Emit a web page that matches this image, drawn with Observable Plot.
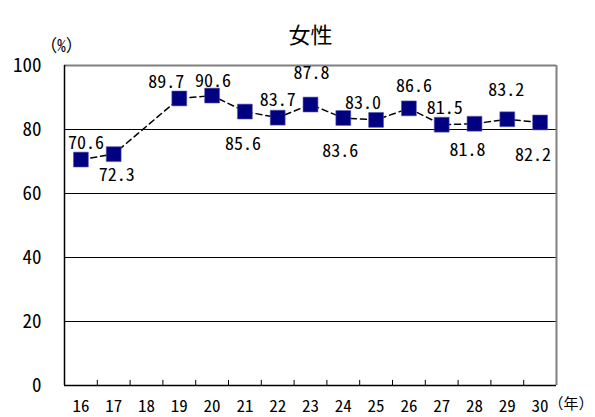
<!DOCTYPE html>
<html>
<head>
<meta charset="utf-8">
<script src="https://cdn.jsdelivr.net/npm/d3@7"></script>
<script src="https://cdn.jsdelivr.net/npm/@observablehq/plot@0.6"></script>
<style>
  html, body { margin: 0; padding: 0; background: #fff; }
  #chart svg { display: block; }
</style>
</head>
<body>
<div id="chart"></div>
<script>
// Data
const title = "女性";
const years = [16, 17, 19, 20, 21, 22, 23, 24, 25, 26, 27, 28, 29, 30];
const values = [70.6, 72.3, 89.7, 90.6, 85.6, 83.7, 87.8, 83.6, 83.0, 86.6, 81.5, 81.8, 83.2, 82.2];
const xTickYears = [16, 17, 18, 19, 20, 21, 22, 23, 24, 25, 26, 27, 28, 29, 30];
const yTicks = [0, 20, 40, 60, 80, 100];
const yUnit = "（%）";
const xUnit = "（年）";

// Label placement (offsets, px)
const labelDx = [5, 3, -13, 1, -2, 0, 1, -3, -13, 5, 3, -7, -1, -7];
const labelDy = [-16, 21, -16, -14, 33, -17, -31, 33, -17, -22, -16, 26, -29, 33];

const data = years.map((y, i) => ({year: y, value: values[i]}));
const font = "'Noto Sans Mono CJK JP', 'Noto Sans CJK JP', 'Liberation Mono', monospace";
const boundaries = xTickYears.slice(1).map(d => d - 0.5);

const marks = [
  // gridlines
  Plot.ruleY(yTicks.filter(d => d > 0 && d < 100), {stroke: "#000", strokeWidth: 1}),
  // gray frame top & right
  Plot.ruleY([100], {stroke: "#808080", strokeWidth: 2}),
  Plot.ruleX([30.5], {stroke: "#808080", strokeWidth: 2}),
  // axes lines
  Plot.ruleX([15.5], {stroke: "#000", strokeWidth: 1.5}),
  Plot.ruleY([0], {stroke: "#000", strokeWidth: 1.5}),
  // x ticks at category boundaries (inward)
  Plot.ruleX(boundaries, {x: d => d, y1: 0, y2: 1.6, stroke: "#000", strokeWidth: 1}),
  // y tick labels
  Plot.text(yTicks, {x: 15.5, y: d => d, text: d => String(d), textAnchor: "end", dx: -23, fontSize: 19}),
  // x tick labels
  Plot.text(xTickYears, {x: d => d, y: 0, text: d => String(d), dy: 21, fontSize: 17}),
  // units
  Plot.text([yUnit], {x: 15.5, y: 100, text: d => d, dx: -3, dy: -19, fontSize: 17}),
  Plot.text([xUnit], {x: 30.5, y: 0, text: d => d, textAnchor: "end", dx: 37, dy: 19, fontSize: 15}),
  // title
  Plot.text([title], {frameAnchor: "top", text: d => d, dy: -38, fontSize: 22}),
  // line
  Plot.line(data, {x: "year", y: "value", stroke: "#000", strokeWidth: 1.5, strokeDasharray: "6,4"}),
  // markers
  Plot.dot(data, {x: "year", y: "value", symbol: "square", r: 8.4, fill: "#000080", stroke: "#5a5ab0", strokeWidth: 0.6})
];
// value labels, each with its own offset
data.forEach((d, i) => {
  marks.push(Plot.text([d], {x: "year", y: "value", text: v => v.value.toFixed(1), dx: labelDx[i], dy: labelDy[i], fontSize: 18}));
});

const plot = Plot.plot({
  width: 595,
  height: 417,
  marginLeft: 64,
  marginRight: 39,
  marginTop: 65,
  marginBottom: 32,
  style: {fontFamily: font, fontSize: "16px", color: "#000", background: "#fff", overflow: "visible"},
  x: {domain: [15.5, 30.5], axis: null},
  y: {domain: [0, 100], axis: null},
  marks
});

document.getElementById("chart").appendChild(plot);
</script>
</body>
</html>
